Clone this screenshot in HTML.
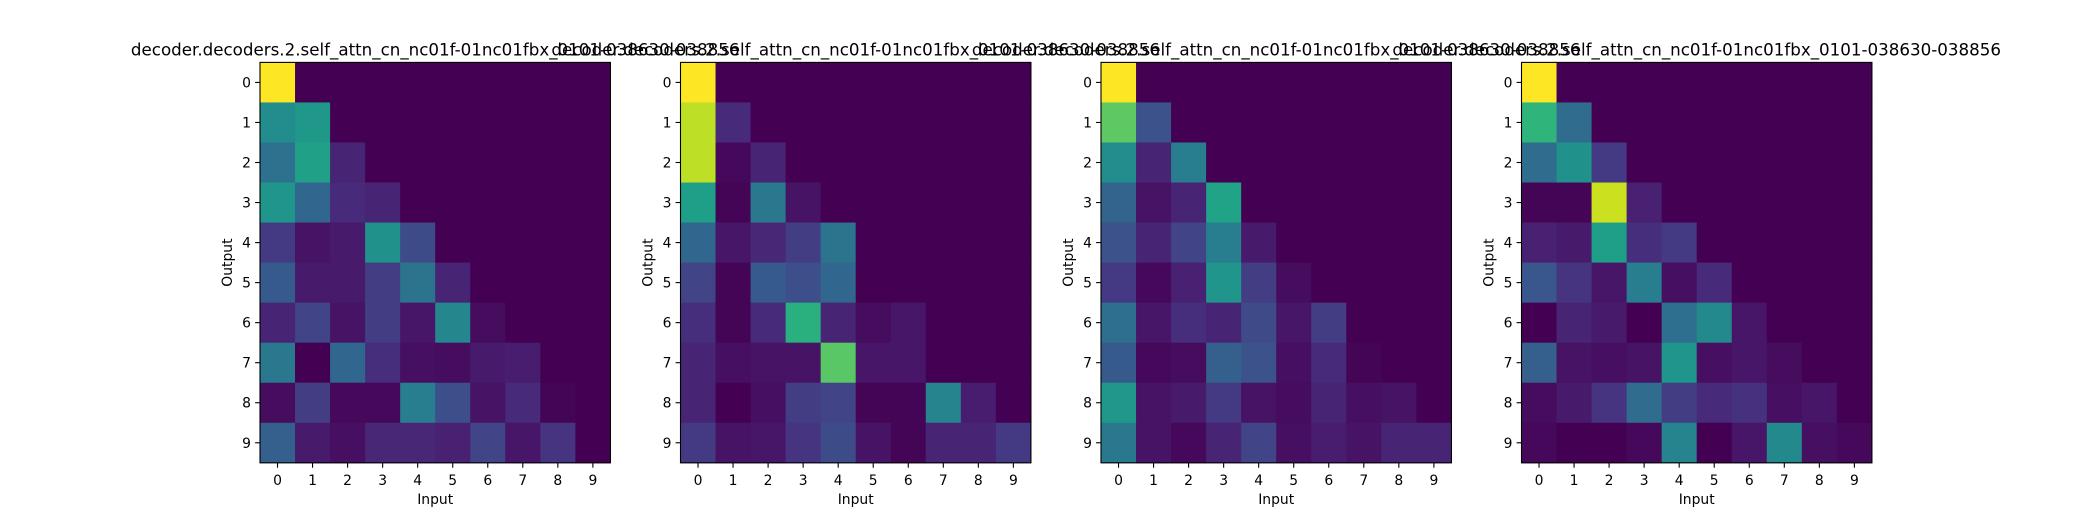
<!DOCTYPE html>
<html><head><meta charset="utf-8"><style>
html,body{margin:0;padding:0;background:#fff;}
svg{display:block;font-family:"DejaVu Sans","Liberation Sans",sans-serif;}
</style></head><body>
<svg id="fig" width="2080" height="520" viewBox="0 0 2080 520"></svg>
<script>
const titleText = "decoder.decoders.2.self_attn_cn_nc01f-01nc01fbx_0101-038630-038856";
const inputLabels = ["0","1","2","3","4","5","6","7","8","9"];
const outputLabels = ["0","1","2","3","4","5","6","7","8","9"];
const head0 = [
[1,0,0,0,0,0,0,0,0,0],
[0.48,0.53,0,0,0,0,0,0,0,0],
[0.37,0.57,0.1,0,0,0,0,0,0,0],
[0.52,0.33,0.12,0.1,0,0,0,0,0,0],
[0.17,0.05,0.07,0.5,0.23,0,0,0,0,0],
[0.28,0.07,0.07,0.18,0.38,0.1,0,0,0,0],
[0.1,0.2,0.05,0.18,0.06,0.46,0.03,0,0,0],
[0.4,0,0.33,0.13,0.04,0.03,0.07,0.08,0,0],
[0.03,0.18,0.02,0.02,0.42,0.24,0.05,0.12,0.01,0],
[0.3,0.07,0.04,0.11,0.11,0.09,0.2,0.06,0.15,0]];
const head1 = [
[1,0,0,0,0,0,0,0,0,0],
[0.9,0.12,0,0,0,0,0,0,0,0],
[0.9,0.02,0.1,0,0,0,0,0,0,0],
[0.56,0.01,0.4,0.05,0,0,0,0,0,0],
[0.33,0.06,0.11,0.18,0.38,0,0,0,0,0],
[0.2,0.01,0.28,0.24,0.33,0,0,0,0,0],
[0.13,0.01,0.12,0.63,0.1,0.03,0.06,0,0,0],
[0.1,0.04,0.05,0.05,0.74,0.06,0.06,0,0,0],
[0.1,0,0.04,0.18,0.2,0.01,0.01,0.45,0.08,0],
[0.17,0.05,0.06,0.15,0.23,0.05,0.01,0.1,0.1,0.17]];
const head2 = [
[1,0,0,0,0,0,0,0,0,0],
[0.75,0.25,0,0,0,0,0,0,0,0],
[0.48,0.1,0.42,0,0,0,0,0,0,0],
[0.32,0.05,0.1,0.58,0,0,0,0,0,0],
[0.25,0.1,0.2,0.42,0.07,0,0,0,0,0],
[0.17,0.02,0.09,0.52,0.18,0.03,0,0,0,0],
[0.36,0.06,0.13,0.1,0.22,0.06,0.18,0,0,0],
[0.28,0.02,0.03,0.3,0.25,0.04,0.12,0.01,0,0],
[0.53,0.05,0.07,0.17,0.05,0.03,0.1,0.04,0.05,0],
[0.4,0.05,0.02,0.1,0.2,0.04,0.08,0.05,0.1,0.1]];
const head3 = [
[1,0,0,0,0,0,0,0,0,0],
[0.65,0.35,0,0,0,0,0,0,0,0],
[0.35,0.5,0.17,0,0,0,0,0,0,0],
[0.01,0.01,0.92,0.09,0,0,0,0,0,0],
[0.09,0.07,0.56,0.13,0.17,0,0,0,0,0],
[0.27,0.15,0.06,0.42,0.04,0.12,0,0,0,0],
[0,0.1,0.07,0,0.36,0.47,0.06,0,0,0],
[0.3,0.05,0.04,0.05,0.52,0.04,0.06,0.03,0,0],
[0.03,0.07,0.15,0.35,0.18,0.12,0.14,0.04,0.06,0],
[0.02,0,0,0.02,0.45,0,0.06,0.47,0.04,0.02]];
const heads = [head0, head1, head2, head3];

const VIR = ["#440154","#471365","#482475","#463480","#414487","#3b528b","#355f8d","#2f6c8e","#2a788e","#25848e","#21918c","#1e9c89","#22a884","#2fb47c","#44bf70","#5ec962","#7ad151","#9bd93c","#bddf26","#dfe318","#fde725"];
function hex(h){return [parseInt(h.slice(1,3),16),parseInt(h.slice(3,5),16),parseInt(h.slice(5,7),16)];}
function viridis(t){t=Math.max(0,Math.min(1,t));const p=t*20;const i=Math.min(19,Math.floor(p));const f=p-i;const a=hex(VIR[i]),b=hex(VIR[i+1]);return "rgb("+a.map((v,k)=>Math.round(v+(b[k]-v)*f)).join(",")+")";}

const NS="http://www.w3.org/2000/svg";
const svg=document.getElementById("fig");
function mk(tag,attrs,parent){const e=document.createElementNS(NS,tag);for(const k in attrs)e.setAttribute(k,attrs[k]);(parent||svg).appendChild(e);return e;}

const axW=350.4, axH=400.4, axTop=62.4, axLeft0=260, axStep=420.5;
heads.forEach((M,h)=>{
  const left=axLeft0+h*axStep;
  const g=mk("g",{});
  
  
  const n=M.length, m=M[0].length;
  const cw=axW/m, ch=axH/n;
  const xs=c=>left+c*cw, ys=r=>axTop+r*ch;
  const vmax=Math.max(...M.flat()), vmin=Math.min(...M.flat());
  M.forEach((row,r)=>row.forEach((v,c)=>{
    const cell=mk("rect",{x:xs(c),y:ys(r),width:cw+0.5,height:ch+0.5,fill:viridis((v-vmin)/((vmax-vmin)||1))},g);
    
    
  }));
  const fr=mk("rect",{x:left,y:axTop,width:axW,height:axH,fill:"none",stroke:"#000","stroke-width":1.1},g);
  
  
  inputLabels.forEach((t,c)=>{
    const cx=xs(c)+cw/2;
    mk("line",{x1:cx,x2:cx,y1:axTop+axH,y2:axTop+axH+4.9,stroke:"#000","stroke-width":1.1},g);
    const tx=mk("text",{x:cx,y:axTop+axH+22,"font-size":13.9,"text-anchor":"middle",fill:"#000"},g);
    tx.textContent=t;
    
    
  });
  outputLabels.forEach((t,r)=>{
    const cy=ys(r)+ch/2;
    mk("line",{x1:left-4.9,x2:left,y1:cy,y2:cy,stroke:"#000","stroke-width":1.1},g);
    const ty=mk("text",{x:left-9,y:cy+5,"font-size":13.9,"text-anchor":"end",fill:"#000"},g);
    ty.textContent=t;
    
    
  });
  const xl=mk("text",{x:left+axW/2,y:axTop+axH+41,"font-size":13.9,"text-anchor":"middle",fill:"#000"},g);
  xl.textContent="Input";
  
  
  const yl=mk("text",{x:0,y:0,"font-size":13.9,"text-anchor":"middle",fill:"#000",transform:"translate("+(left-28)+","+(axTop+axH/2)+") rotate(-90)"},g);
  yl.textContent="Output";
  
  
  const ti=mk("text",{x:left+axW/2,y:axTop-7,"font-size":16.7,"text-anchor":"middle",fill:"#000"},g);
  ti.textContent=titleText;
  
  
});
</script>
</body></html>
